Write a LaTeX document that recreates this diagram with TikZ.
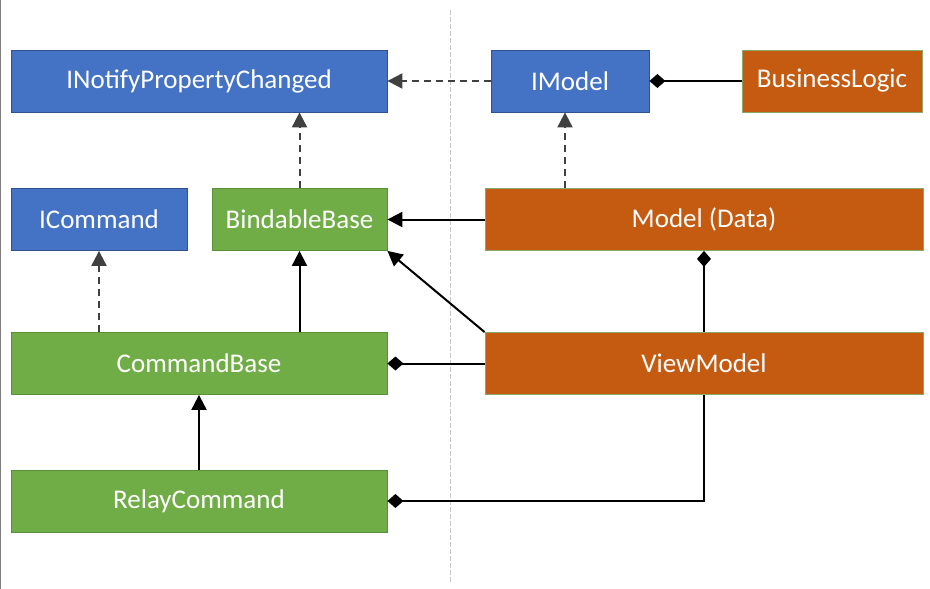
\documentclass[tikz,border=0pt]{standalone}
\usepackage{fontspec}
\setmainfont{Carlito}
\usetikzlibrary{arrows.meta, calc}

\definecolor{ifaceblue}{HTML}{4472C4}
\definecolor{ifaceline}{HTML}{2F528F}
\definecolor{basegreen}{HTML}{70AD47}
\definecolor{baseline}{HTML}{5A8F39}
\definecolor{apporange}{HTML}{C55A11}
\definecolor{appline}{HTML}{8AA86A}
\definecolor{dashgray}{HTML}{404040}

\begin{document}
\begin{tikzpicture}[x=1pt, y=-1pt, font=\fontsize{27}{31}\selectfont]
  % Box looks: interfaces blue, base classes green, app classes orange
  \tikzset{
    box/.style={rectangle, inner sep=0pt, minimum height=62pt,
      text=white, line width=0.8pt},
    iface/.style={box, fill=ifaceblue, draw=ifaceline},
    base/.style={box, fill=basegreen, draw=baseline},
    app/.style={box, fill=apporange, draw=appline},
    % Connectors
    realize/.style={draw=dashgray, line width=2pt, dash pattern=on 7pt off 5pt,
      -{Triangle[length=15pt, width=15pt]}},
    inherit/.style={draw=black, line width=2pt,
      -{Triangle[length=15pt, width=15pt]}},
    compose/.style={draw=black, line width=2pt,
      {Diamond[length=16pt, width=14pt]}-}
  }

  \useasboundingbox (0,0) rectangle (930,589);
  \draw[gray, line width=1pt] (0.5,0) -- (0.5,589);
  \draw[black!22, line width=0.8pt, dash pattern=on 5pt off 2pt] (450,10) -- (450,583);

  % Top row
  \node[iface, minimum width=376pt] (inpc)   at (199,81)  {INotifyPropertyChanged};
  \node[iface, minimum width=158pt] (imodel) at (570,81)  {IModel};
  \node[app,   minimum width=180pt] (logic)  at (832,81)  {BusinessLogic};

  % Second row
  \node[iface, minimum width=176pt] (icmd)     at (99,219.5)    {ICommand};
  \node[base,  minimum width=175pt] (bindable) at (299.5,219.5) {BindableBase};
  \node[app,   minimum width=438pt] (model)    at (704,219.5)   {Model (Data)};

  % Third row
  \node[base, minimum width=376pt] (cmdbase) at (199,363.5) {CommandBase};
  \node[app,  minimum width=438pt] (vm)      at (704,363.5) {ViewModel};

  % Bottom row
  \node[base, minimum width=376pt] (relay) at (199,501) {RelayCommand};

  % Interface realizations
  \draw[realize] (imodel.west) -- (inpc.east);
  \draw[realize] (bindable.north) -- (bindable.north |- inpc.south);
  \draw[realize] ($(model.north -| imodel.south)+(-5,0)$) -- ($(imodel.south)+(-5,0)$);
  \draw[realize] (cmdbase.north -| icmd.south) -- (icmd.south);

  % Inheritance
  \draw[inherit] (model.west) -- (bindable.east);
  \draw[inherit] (vm.north west) -- (bindable.south east);
  \draw[inherit] (cmdbase.north -| bindable.south) -- (bindable.south);
  \draw[inherit] (relay.north) -- (cmdbase.south);

  % Composition
  \draw[compose] (imodel.east) -- (logic.west);
  \draw[compose] (model.south) -- (vm.north);
  \draw[compose] (cmdbase.east) -- (vm.west);
  \draw[compose] (relay.east) -| (vm.south);
\end{tikzpicture}
\end{document}
